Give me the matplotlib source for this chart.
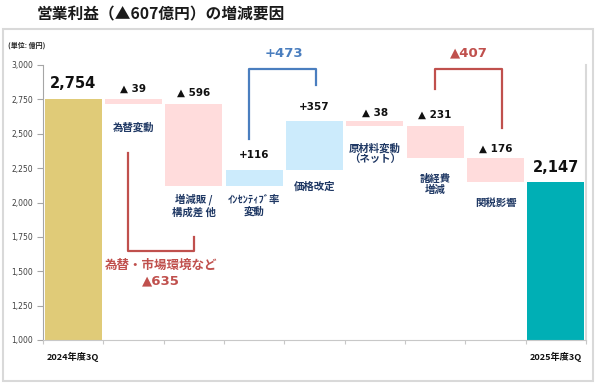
import numpy as np
import matplotlib.pyplot as plt
from matplotlib.patches import Rectangle

plt.rcParams['font.family'] = ['Noto Sans CJK JP', 'DejaVu Sans']

# data
categories = ['2024年度3Q', '為替変動', '増減販 /\n構成差 他', 'ｲﾝｾﾝﾃｨﾌﾞ率\n変動', '価格改定',
              '原材料変動\n（ネット）', '諸経費\n増減', '関税影響', '2025年度3Q']
start_value = 2754
deltas = [-39, -596, 116, 357, -38, -231, -176]
end_value = 2147
value_labels = ['2,754', '▲ 39', '▲ 596', '+116', '+357', '▲ 38', '▲ 231', '▲ 176', '2,147']
yticks = [1000, 1250, 1500, 1750, 2000, 2250, 2500, 2750, 3000]
ytick_labels = ['1,000', '1,250', '1,500', '1,750', '2,000', '2,250', '2,500', '2,750', '3,000']

# waterfall geometry
cum = start_value + np.cumsum([0] + deltas)
bottoms = [0]
heights = [start_value]
for i, d in enumerate(deltas):
    lo = min(cum[i], cum[i + 1])
    bottoms.append(lo)
    heights.append(abs(d))
bottoms.append(0)
heights.append(end_value)
tops = [b + h for b, h in zip(bottoms, heights)]

colors = ['#E0CB78'] + ['#FFDCDC' if d < 0 else '#CCEBFC' for d in deltas] + ['#00AFB5']

fig = plt.figure(figsize=(5.98, 3.88), dpi=100)
ax = fig.add_axes([43 / 598, 1 - 340 / 388, 543 / 598, 275 / 388])

x = np.arange(len(categories))
ax.bar(x, heights, bottom=bottoms, width=0.94, color=colors, zorder=2)

ax.set_xlim(-0.5, len(categories) - 0.5)
ax.set_ylim(1000, 3000)
ax.set_yticks(yticks)
ax.set_yticklabels(ytick_labels, family='DejaVu Sans', fontsize=5.5, color='#404040')
ax.set_xticks(np.arange(len(categories) + 1) - 0.5)
ax.set_xticklabels([])
ax.tick_params(axis='y', length=4, width=0.8, color='#A6A6A6', pad=3)
ax.tick_params(axis='x', length=3, width=0.8, color='#C8C8C8')
ax.spines['top'].set_visible(False)
ax.spines['left'].set_color('#A6A6A6')
ax.spines['bottom'].set_color('#C8C8C8')
ax.spines['right'].set_color('#D9D9D9')
ax.spines['right'].set_linewidth(1.5)

# first/last category labels under axis
for i in [0, len(categories) - 1]:
    ax.annotate(categories[i], (x[i], 1000), xytext=(0, -12), textcoords='offset points',
                ha='center', va='center', fontsize=6.6, fontweight='bold', color='#111111',
                annotation_clip=False)

# value labels
val_offsets = [11, 7, 8, 11, 10, 6, 8, 7, 11]
for i, lab in enumerate(value_labels):
    big = i in (0, len(categories) - 1)
    ax.annotate(lab, (x[i], tops[i]), xytext=(0, val_offsets[i]), textcoords='offset points',
                ha='center', va='center', family='DejaVu Sans', fontweight='bold',
                fontsize=10.5 if big else 7.5, color='#111111', annotation_clip=False)

# category labels below the floating bars
cat_offsets = [0, -17, -14, -14, -12, -20, -19, -15, 0]
for i in range(1, len(categories) - 1):
    ax.annotate(categories[i], (x[i], bottoms[i]), xytext=(0, cat_offsets[i]), textcoords='offset points',
                ha='center', va='center', fontsize=7.5, fontweight='bold', color='#1F3864',
                linespacing=1.2, annotation_clip=False)

red = '#C0504D'
blue = '#4A7EBF'
# bracket: 為替・市場環境など
ax.plot([0.91, 0.91, 2.0, 2.0], [2360, 1647, 1647, 1750], color=red, lw=1.6,
        solid_joinstyle='round', clip_on=False, zorder=3)
ax.text(1.46, 1540, '為替・市場環境など', ha='center', va='center', fontsize=9, fontweight='bold', color=red)
ax.text(1.46, 1430, '▲635', ha='center', va='center', fontsize=9.5, fontweight='bold', color=red,
        family='DejaVu Sans')

# bracket: +473
ax.plot([2.92, 2.92, 4.03, 4.03], [2462, 2972, 2972, 2855], color=blue, lw=1.6,
        solid_joinstyle='round', clip_on=False, zorder=3)
ax.text(3.49, 3085, '+473', ha='center', va='center', fontsize=9.5, fontweight='bold', color=blue,
        family='DejaVu Sans', clip_on=False)

# bracket: ▲407
ax.plot([6.0, 6.0, 7.11, 7.11], [2825, 2972, 2972, 2542], color=red, lw=1.6,
        solid_joinstyle='round', clip_on=False, zorder=3)
ax.text(6.56, 3090, '▲407', ha='center', va='center', fontsize=9.5, fontweight='bold', color=red,
        family='DejaVu Sans', clip_on=False)

# frame, title, unit
fig.patches.append(Rectangle((3 / 598, 1 - 381 / 388), 590 / 598, 352 / 388, transform=fig.transFigure,
                             fill=False, edgecolor='#D9D9D9', lw=1.5))
fig.text(161 / 598, 1 - 14 / 388, '営業利益（▲607億円）の増減要因', ha='center', va='center',
         fontsize=11.3, fontweight='bold', color='#1A1A1A')
fig.text(8 / 598, 1 - 45 / 388, '(単位: 億円)', ha='left', va='center', fontsize=5, fontweight='bold',
         color='#222222')

fig.savefig('out.png', dpi=100)
